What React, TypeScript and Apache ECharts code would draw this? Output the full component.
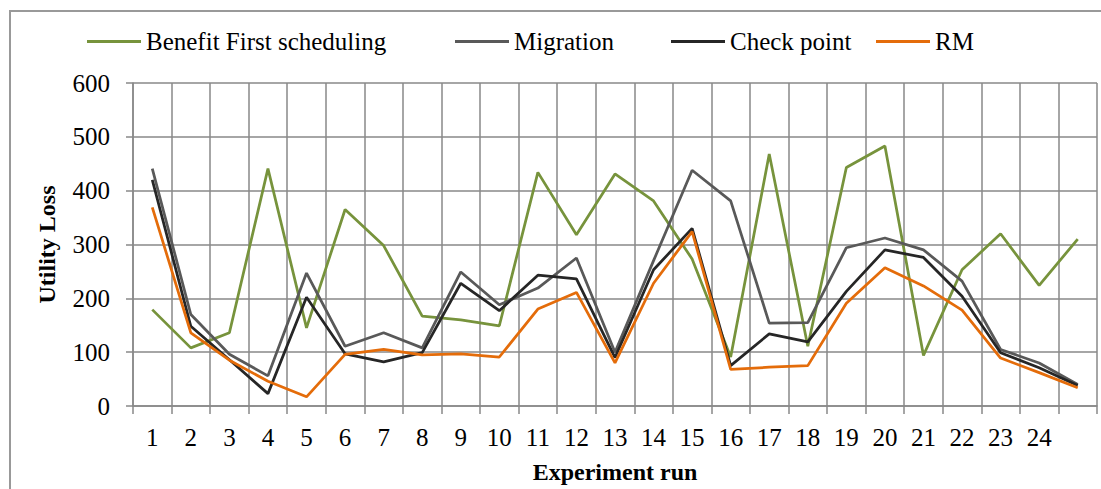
import React, { useEffect, useRef } from "react";
import * as echarts from "echarts";

const categories = ["1","2","3","4","5","6","7","8","9","10","11","12","13","14","15","16","17","18","19","20","21","22","23","24",""];
const benefitFirst = [179,108,136,441,145,365,298,167,160,149,434,318,431,381,273,91,468,111,443,483,94,253,320,224,310];
const migration = [441,170,96,56,247,111,136,108,249,188,219,275,100,270,438,381,154,155,294,312,290,232,105,80,40];
const checkPoint = [420,148,86,23,202,97,82,99,228,177,243,236,90,253,330,75,134,119,213,290,276,204,99,71,38];
const rm = [369,136,85,46,17,96,105,95,97,91,180,211,80,228,324,68,72,75,191,257,223,178,89,62,34];
const seriesNames = ["Benefit First scheduling", "Migration", "Check point", "RM"];
const colors = ["#77933C", "#595959", "#262626", "#E46C0A"];
const legendLefts = [87, 455, 671, 876];

const FONT = "Liberation Serif";

export default function App() {
  const ref = useRef<HTMLDivElement>(null);
  useEffect(() => {
    if (!ref.current) return;
    const chart = echarts.init(ref.current, undefined, { renderer: "svg" });
    const datasets = [benefitFirst, migration, checkPoint, rm];
    chart.setOption({
      animation: false,
      backgroundColor: "#ffffff",
      textStyle: { fontFamily: FONT },
      graphic: [
        {
          type: "rect",
          z: -10,
          shape: { x: 10, y: 11, width: 1100, height: 490 },
          style: { fill: "none", stroke: "#999999", lineWidth: 2 },
        },
      ],
      legend: seriesNames.map((n, i) => ({
        data: [n],
        left: legendLefts[i],
        top: 29,
        padding: 0,
        icon: "rect",
        itemWidth: 54,
        itemHeight: 3,
        textStyle: { fontSize: 25, color: "#000", fontFamily: FONT },
      })),
      grid: { left: 133, right: 4, top: 83, bottom: 82 },
      xAxis: {
        type: "category",
        data: categories,
        boundaryGap: true,
        name: "Experiment run",
        nameLocation: "middle",
        nameGap: 54,
        nameTextStyle: { fontSize: 24, fontWeight: "bold", color: "#000", fontFamily: FONT },
        axisLine: { lineStyle: { color: "#888888", width: 1.5 } },
        axisTick: { show: true, length: 8, lineStyle: { color: "#888888", width: 1.5 } },
        splitLine: { show: true, lineStyle: { color: "#888888", width: 1.5 } },
        axisLabel: { interval: 0, fontSize: 25, color: "#000", margin: 19, fontFamily: FONT },
      },
      yAxis: {
        type: "value",
        min: 0,
        max: 600,
        interval: 100,
        name: "Utility Loss",
        nameLocation: "middle",
        nameGap: 74,
        nameTextStyle: { fontSize: 24, fontWeight: "bold", color: "#000", fontFamily: FONT },
        axisLine: { show: true, lineStyle: { color: "#888888", width: 1.5 } },
        axisTick: { show: true, length: 7, lineStyle: { color: "#888888", width: 1.5 } },
        splitLine: { show: true, lineStyle: { color: "#888888", width: 1.5 } },
        axisLabel: { fontSize: 25, color: "#000", margin: 23, fontFamily: FONT },
      },
      series: seriesNames.map((n, i) => ({
        name: n,
        type: "line",
        data: datasets[i],
        symbol: "none",
        color: colors[i],
        lineStyle: { color: colors[i], width: 2.75 },
      })),
    });
    return () => chart.dispose();
  }, []);
  return (
    <div
      ref={ref}
      style={{ position: "fixed", left: 0, top: 0, width: 1101, height: 489, background: "#fff" }}
    />
  );
}
